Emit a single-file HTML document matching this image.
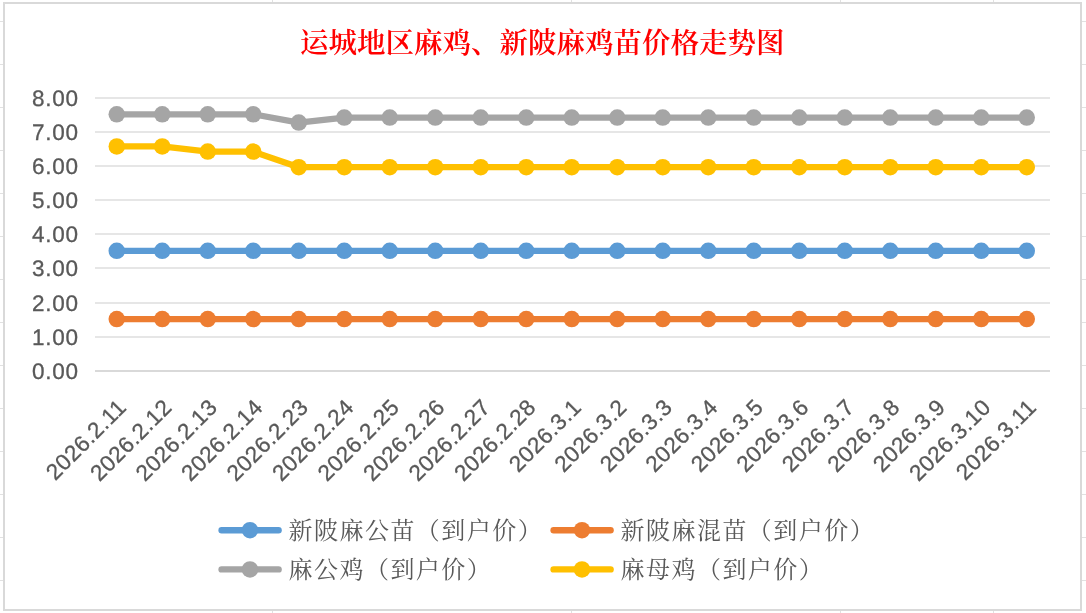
<!DOCTYPE html>
<html lang="zh-CN">
<head>
<meta charset="utf-8">
<title>运城地区麻鸡、新陂麻鸡苗价格走势图</title>
<style>
html,body{margin:0;padding:0;background:#fff;}
body{width:1086px;height:613px;overflow:hidden;position:relative;}
svg{position:absolute;left:0;top:0;display:block;}
.num{font-family:"Liberation Sans","DejaVu Sans",sans-serif;fill:#595959;stroke:#595959;stroke-width:0.3px;text-rendering:geometricPrecision;}
.ylab{font-size:22.5px;letter-spacing:0.7px;text-anchor:end;}
.xlab{font-size:22.5px;letter-spacing:0.45px;text-anchor:end;}
.title{font-family:"Liberation Serif","Noto Serif CJK SC",serif;font-weight:600;fill:#ff0000;font-size:28.5px;text-anchor:middle;}
.leg{font-family:"Liberation Serif","Noto Serif CJK SC",serif;font-weight:400;fill:#595959;font-size:24px;letter-spacing:1.45px;}
</style>
</head>
<body>
<svg width="1086" height="613" viewBox="0 0 1086 613">
<rect x="0" y="0" width="1086" height="613" fill="#ffffff"/>

<g fill="#e1e1e1" shape-rendering="crispEdges">
<rect x="0" y="21" width="3" height="1"/><rect x="1082" y="21" width="4" height="1"/>
<rect x="0" y="64" width="3" height="1"/><rect x="1082" y="64" width="4" height="1"/>
<rect x="0" y="107" width="3" height="1"/><rect x="1082" y="107" width="4" height="1"/>
<rect x="0" y="150" width="3" height="1"/><rect x="1082" y="150" width="4" height="1"/>
<rect x="0" y="193" width="3" height="1"/><rect x="1082" y="193" width="4" height="1"/>
<rect x="0" y="236" width="3" height="1"/><rect x="1082" y="236" width="4" height="1"/>
<rect x="0" y="279" width="3" height="1"/><rect x="1082" y="279" width="4" height="1"/>
<rect x="0" y="322" width="3" height="1"/><rect x="1082" y="322" width="4" height="1"/>
<rect x="0" y="365" width="3" height="1"/><rect x="1082" y="365" width="4" height="1"/>
<rect x="0" y="408" width="3" height="1"/><rect x="1082" y="408" width="4" height="1"/>
<rect x="0" y="451" width="3" height="1"/><rect x="1082" y="451" width="4" height="1"/>
<rect x="0" y="494" width="3" height="1"/><rect x="1082" y="494" width="4" height="1"/>
<rect x="0" y="537" width="3" height="1"/><rect x="1082" y="537" width="4" height="1"/>
<rect x="0" y="580" width="3" height="1"/><rect x="1082" y="580" width="4" height="1"/>
<rect x="272" y="0" width="1" height="2"/><rect x="272" y="611" width="1" height="2"/>
<rect x="571" y="0" width="1" height="2"/><rect x="571" y="611" width="1" height="2"/>
<rect x="840" y="0" width="1" height="2"/><rect x="840" y="611" width="1" height="2"/>
<rect x="993" y="0" width="1" height="2"/><rect x="993" y="611" width="1" height="2"/>
</g>
<rect x="4" y="3" width="1077" height="607" fill="#ffffff" stroke="#d9d9d9" stroke-width="2" shape-rendering="crispEdges"/>
<g shape-rendering="crispEdges">
<rect x="95" y="97" width="955" height="2" fill="#e6e6e6"/>
<rect x="95" y="131" width="955" height="2" fill="#e6e6e6"/>
<rect x="95" y="165" width="955" height="2" fill="#e6e6e6"/>
<rect x="95" y="199" width="955" height="2" fill="#e6e6e6"/>
<rect x="95" y="233" width="955" height="2" fill="#e6e6e6"/>
<rect x="95" y="267" width="955" height="2" fill="#e6e6e6"/>
<rect x="95" y="302" width="955" height="2" fill="#e6e6e6"/>
<rect x="95" y="336" width="955" height="2" fill="#e6e6e6"/>
<rect x="95" y="370" width="955" height="2" fill="#d9d9d9"/>
</g>
<g class="num ylab">
<text x="78.6" y="105.50">8.00</text>
<text x="78.6" y="139.50">7.00</text>
<text x="78.6" y="173.50">6.00</text>
<text x="78.6" y="207.50">5.00</text>
<text x="78.6" y="241.50">4.00</text>
<text x="78.6" y="275.50">3.00</text>
<text x="78.6" y="310.50">2.00</text>
<text x="78.6" y="344.50">1.00</text>
<text x="78.6" y="378.50">0.00</text>
</g>
<g fill="#5b9bd5" stroke="none"><polyline points="116.75,250.80 162.25,250.80 207.75,250.80 253.25,250.80 298.75,250.80 344.25,250.80 389.75,250.80 435.25,250.80 480.75,250.80 526.25,250.80 571.75,250.80 617.25,250.80 662.75,250.80 708.25,250.80 753.75,250.80 799.25,250.80 844.75,250.80 890.25,250.80 935.75,250.80 981.25,250.80 1026.75,250.80" fill="none" stroke="#5b9bd5" stroke-width="6.2" stroke-linejoin="round" stroke-linecap="round"/><circle cx="116.75" cy="250.80" r="8.25"/><circle cx="162.25" cy="250.80" r="8.25"/><circle cx="207.75" cy="250.80" r="8.25"/><circle cx="253.25" cy="250.80" r="8.25"/><circle cx="298.75" cy="250.80" r="8.25"/><circle cx="344.25" cy="250.80" r="8.25"/><circle cx="389.75" cy="250.80" r="8.25"/><circle cx="435.25" cy="250.80" r="8.25"/><circle cx="480.75" cy="250.80" r="8.25"/><circle cx="526.25" cy="250.80" r="8.25"/><circle cx="571.75" cy="250.80" r="8.25"/><circle cx="617.25" cy="250.80" r="8.25"/><circle cx="662.75" cy="250.80" r="8.25"/><circle cx="708.25" cy="250.80" r="8.25"/><circle cx="753.75" cy="250.80" r="8.25"/><circle cx="799.25" cy="250.80" r="8.25"/><circle cx="844.75" cy="250.80" r="8.25"/><circle cx="890.25" cy="250.80" r="8.25"/><circle cx="935.75" cy="250.80" r="8.25"/><circle cx="981.25" cy="250.80" r="8.25"/><circle cx="1026.75" cy="250.80" r="8.25"/></g>
<g fill="#ed7d31" stroke="none"><polyline points="116.75,319.10 162.25,319.10 207.75,319.10 253.25,319.10 298.75,319.10 344.25,319.10 389.75,319.10 435.25,319.10 480.75,319.10 526.25,319.10 571.75,319.10 617.25,319.10 662.75,319.10 708.25,319.10 753.75,319.10 799.25,319.10 844.75,319.10 890.25,319.10 935.75,319.10 981.25,319.10 1026.75,319.10" fill="none" stroke="#ed7d31" stroke-width="6.2" stroke-linejoin="round" stroke-linecap="round"/><circle cx="116.75" cy="319.10" r="8.25"/><circle cx="162.25" cy="319.10" r="8.25"/><circle cx="207.75" cy="319.10" r="8.25"/><circle cx="253.25" cy="319.10" r="8.25"/><circle cx="298.75" cy="319.10" r="8.25"/><circle cx="344.25" cy="319.10" r="8.25"/><circle cx="389.75" cy="319.10" r="8.25"/><circle cx="435.25" cy="319.10" r="8.25"/><circle cx="480.75" cy="319.10" r="8.25"/><circle cx="526.25" cy="319.10" r="8.25"/><circle cx="571.75" cy="319.10" r="8.25"/><circle cx="617.25" cy="319.10" r="8.25"/><circle cx="662.75" cy="319.10" r="8.25"/><circle cx="708.25" cy="319.10" r="8.25"/><circle cx="753.75" cy="319.10" r="8.25"/><circle cx="799.25" cy="319.10" r="8.25"/><circle cx="844.75" cy="319.10" r="8.25"/><circle cx="890.25" cy="319.10" r="8.25"/><circle cx="935.75" cy="319.10" r="8.25"/><circle cx="981.25" cy="319.10" r="8.25"/><circle cx="1026.75" cy="319.10" r="8.25"/></g>
<g fill="#a5a5a5" stroke="none"><polyline points="116.75,114.30 162.25,114.30 207.75,114.30 253.25,114.30 298.75,122.60 344.25,117.60 389.75,117.60 435.25,117.60 480.75,117.60 526.25,117.60 571.75,117.60 617.25,117.60 662.75,117.60 708.25,117.60 753.75,117.60 799.25,117.60 844.75,117.60 890.25,117.60 935.75,117.60 981.25,117.60 1026.75,117.60" fill="none" stroke="#a5a5a5" stroke-width="6.2" stroke-linejoin="round" stroke-linecap="round"/><circle cx="116.75" cy="114.30" r="8.25"/><circle cx="162.25" cy="114.30" r="8.25"/><circle cx="207.75" cy="114.30" r="8.25"/><circle cx="253.25" cy="114.30" r="8.25"/><circle cx="298.75" cy="122.60" r="8.25"/><circle cx="344.25" cy="117.60" r="8.25"/><circle cx="389.75" cy="117.60" r="8.25"/><circle cx="435.25" cy="117.60" r="8.25"/><circle cx="480.75" cy="117.60" r="8.25"/><circle cx="526.25" cy="117.60" r="8.25"/><circle cx="571.75" cy="117.60" r="8.25"/><circle cx="617.25" cy="117.60" r="8.25"/><circle cx="662.75" cy="117.60" r="8.25"/><circle cx="708.25" cy="117.60" r="8.25"/><circle cx="753.75" cy="117.60" r="8.25"/><circle cx="799.25" cy="117.60" r="8.25"/><circle cx="844.75" cy="117.60" r="8.25"/><circle cx="890.25" cy="117.60" r="8.25"/><circle cx="935.75" cy="117.60" r="8.25"/><circle cx="981.25" cy="117.60" r="8.25"/><circle cx="1026.75" cy="117.60" r="8.25"/></g>
<g fill="#ffc000" stroke="none"><polyline points="116.75,146.40 162.25,146.40 207.75,151.60 253.25,151.60 298.75,167.20 344.25,167.20 389.75,167.20 435.25,167.20 480.75,167.20 526.25,167.20 571.75,167.20 617.25,167.20 662.75,167.20 708.25,167.20 753.75,167.20 799.25,167.20 844.75,167.20 890.25,167.20 935.75,167.20 981.25,167.20 1026.75,167.20" fill="none" stroke="#ffc000" stroke-width="6.2" stroke-linejoin="round" stroke-linecap="round"/><circle cx="116.75" cy="146.40" r="8.25"/><circle cx="162.25" cy="146.40" r="8.25"/><circle cx="207.75" cy="151.60" r="8.25"/><circle cx="253.25" cy="151.60" r="8.25"/><circle cx="298.75" cy="167.20" r="8.25"/><circle cx="344.25" cy="167.20" r="8.25"/><circle cx="389.75" cy="167.20" r="8.25"/><circle cx="435.25" cy="167.20" r="8.25"/><circle cx="480.75" cy="167.20" r="8.25"/><circle cx="526.25" cy="167.20" r="8.25"/><circle cx="571.75" cy="167.20" r="8.25"/><circle cx="617.25" cy="167.20" r="8.25"/><circle cx="662.75" cy="167.20" r="8.25"/><circle cx="708.25" cy="167.20" r="8.25"/><circle cx="753.75" cy="167.20" r="8.25"/><circle cx="799.25" cy="167.20" r="8.25"/><circle cx="844.75" cy="167.20" r="8.25"/><circle cx="890.25" cy="167.20" r="8.25"/><circle cx="935.75" cy="167.20" r="8.25"/><circle cx="981.25" cy="167.20" r="8.25"/><circle cx="1026.75" cy="167.20" r="8.25"/></g>
<g class="num xlab">
<text transform="translate(127.65,408.70) rotate(-45)" x="0" y="0">2026.2.11</text>
<text transform="translate(173.15,408.70) rotate(-45)" x="0" y="0">2026.2.12</text>
<text transform="translate(218.65,408.70) rotate(-45)" x="0" y="0">2026.2.13</text>
<text transform="translate(264.15,408.70) rotate(-45)" x="0" y="0">2026.2.14</text>
<text transform="translate(309.65,408.70) rotate(-45)" x="0" y="0">2026.2.23</text>
<text transform="translate(355.15,408.70) rotate(-45)" x="0" y="0">2026.2.24</text>
<text transform="translate(400.65,408.70) rotate(-45)" x="0" y="0">2026.2.25</text>
<text transform="translate(446.15,408.70) rotate(-45)" x="0" y="0">2026.2.26</text>
<text transform="translate(491.65,408.70) rotate(-45)" x="0" y="0">2026.2.27</text>
<text transform="translate(537.15,408.70) rotate(-45)" x="0" y="0">2026.2.28</text>
<text transform="translate(582.65,408.70) rotate(-45)" x="0" y="0">2026.3.1</text>
<text transform="translate(628.15,408.70) rotate(-45)" x="0" y="0">2026.3.2</text>
<text transform="translate(673.65,408.70) rotate(-45)" x="0" y="0">2026.3.3</text>
<text transform="translate(719.15,408.70) rotate(-45)" x="0" y="0">2026.3.4</text>
<text transform="translate(764.65,408.70) rotate(-45)" x="0" y="0">2026.3.5</text>
<text transform="translate(810.15,408.70) rotate(-45)" x="0" y="0">2026.3.6</text>
<text transform="translate(855.65,408.70) rotate(-45)" x="0" y="0">2026.3.7</text>
<text transform="translate(901.15,408.70) rotate(-45)" x="0" y="0">2026.3.8</text>
<text transform="translate(946.65,408.70) rotate(-45)" x="0" y="0">2026.3.9</text>
<text transform="translate(992.15,408.70) rotate(-45)" x="0" y="0">2026.3.10</text>
<text transform="translate(1037.65,408.70) rotate(-45)" x="0" y="0">2026.3.11</text>
</g>
<text class="title" x="542.2" y="52.7">运城地区麻鸡、新陂麻鸡苗价格走势图</text>
<g><line x1="221.6" y1="530.2" x2="278.6" y2="530.2" stroke="#5b9bd5" stroke-width="6.4" stroke-linecap="round"/><circle cx="250.0" cy="530.2" r="8.25" fill="#5b9bd5"/><text class="leg" x="288.6" y="538.7">新陂麻公苗（到户价）</text></g>
<g><line x1="553.6" y1="530.2" x2="610.6" y2="530.2" stroke="#ed7d31" stroke-width="6.4" stroke-linecap="round"/><circle cx="582.0" cy="530.2" r="8.25" fill="#ed7d31"/><text class="leg" x="620.6" y="538.7">新陂麻混苗（到户价）</text></g>
<g><line x1="221.6" y1="569.4" x2="278.6" y2="569.4" stroke="#a5a5a5" stroke-width="6.4" stroke-linecap="round"/><circle cx="250.0" cy="569.4" r="8.25" fill="#a5a5a5"/><text class="leg" x="288.6" y="577.9">麻公鸡（到户价）</text></g>
<g><line x1="553.6" y1="569.4" x2="610.6" y2="569.4" stroke="#ffc000" stroke-width="6.4" stroke-linecap="round"/><circle cx="582.0" cy="569.4" r="8.25" fill="#ffc000"/><text class="leg" x="620.6" y="577.9">麻母鸡（到户价）</text></g>
</svg>
</body>
</html>
